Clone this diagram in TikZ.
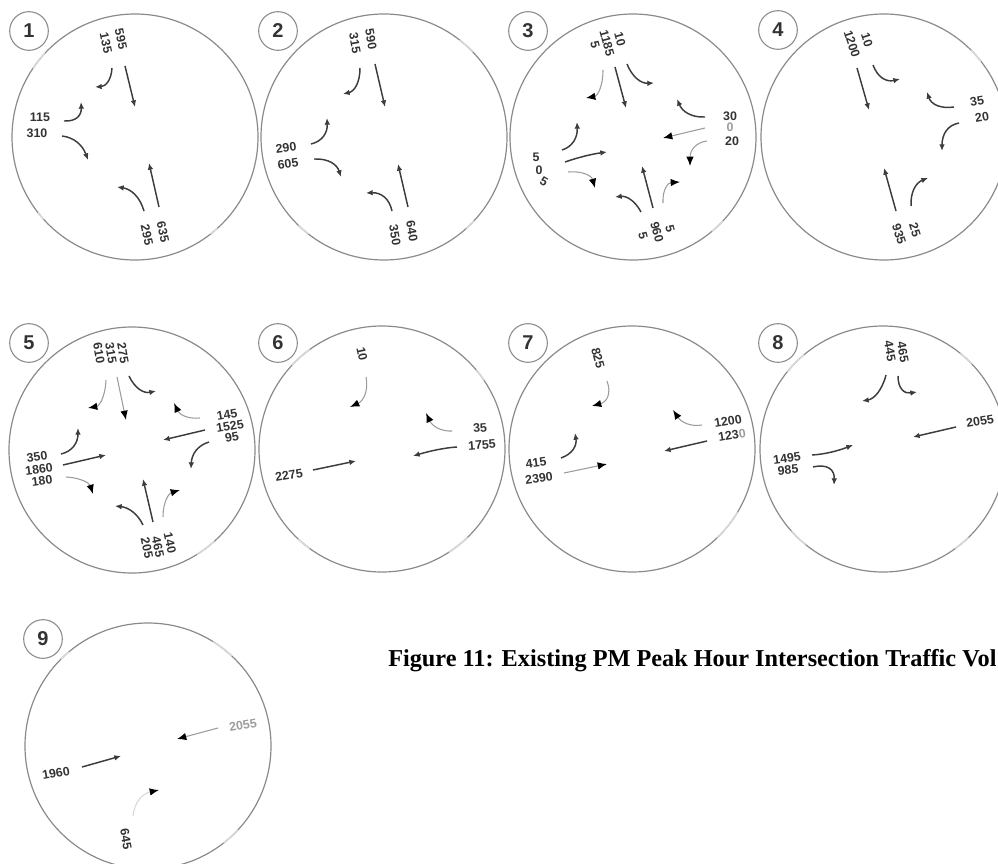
\documentclass[tikz,border=0pt]{standalone}
\usepackage{fontspec}
\setmainfont{Liberation Serif}
\setsansfont{Liberation Sans}
\usetikzlibrary{arrows.meta,calc}
\definecolor{ringgray}{HTML}{8A8A8A}
\definecolor{gapgray}{HTML}{D8D8D8}
\definecolor{flowdark}{HTML}{3C3C3C}
\definecolor{fadegray}{HTML}{9C9C9C}
\definecolor{numdark}{HTML}{333333}
\newcommand{\bendarrow}[4]{\draw[#1] (#2) .. controls ($(#2)!0.67!(#3)$) and ($(#4)!0.67!(#3)$) .. (#4);}
\begin{document}
\begin{tikzpicture}[
  x=0.75pt,y=-0.75pt,
  ring/.style={draw=ringgray,circle,line width=0.9pt,minimum size=184.5pt,inner sep=0pt,outer sep=0pt},
  badge/.style={draw=ringgray,circle,line width=0.8pt,minimum size=29pt,inner sep=0pt,font=\sffamily\bfseries\fontsize{15}{15}\selectfont,text=numdark},
  gapped/.style={draw=gapgray,line width=1.3pt},
  num/.style={inner sep=0pt,font=\sffamily\bfseries\fontsize{9.3}{10}\selectfont,text=numdark},
  flow/.style={draw=flowdark,line width=1.1pt,-{Latex[length=5pt,width=4.2pt]}},
  fade/.style={draw=fadegray,line width=0.8pt,-{Latex[length=7pt,width=5.6pt,black]}},
  faint/.style={fade,draw=gapgray},
]
  \useasboundingbox (0,0) rectangle (998,863);

  \foreach \name/\cx/\cy/\bx/\by in {1/135/137/29/31,2/384/137/278/31,3/633/137/528/31,4/884/137/778/30,
    5/132/450/29/343,6/382/449/278/343,7/632/449/528/343,8/883/449/778/343,9/148/746/43/639} {
    \node[ring] (ring\name) at (\cx,\cy) {};
    \node[badge] (tag\name) at (\bx,\by) {\name};
  }
  \foreach \name/\ang/\len in {1/137/9,1/218/4,1/-52/4,2/44/8,2/226/6,2/-48/5,3/-50/7,4/38/7,5/-58/10,
    6/126/11,6/34/6,6/227/7,6/-57/11,7/-46/15,8/130/11,8/44/7,8/222/9,8/-54/8,9/130/5,9/47/11,9/-52/9} {
    \draw[gapped] (ring\name.\ang) arc[start angle=\ang,delta angle=\len,radius=92.25pt];
  }

  % intersection 1
  \bendarrow{flow}{112,68}{111,86}{95,87}
  \draw[flow] (125,66) -- (135,107);
  \bendarrow{flow}{64,121}{82,122}{81,102}
  \bendarrow{flow}{62,136}{80,138}{88,160}
  \bendarrow{flow}{144,211}{138,190}{117,187}
  \draw[flow] (159,207) -- (149,163);
  \node[num,rotate=-78] (a1) at (106,43) {135};
  \node[num,rotate=-78] (a2) at (121,39) {595};
  \node[num] (a3) at (40,117) {115};
  \node[num] (a4) at (37,133) {310};
  \node[num,rotate=-78] (a5) at (147,235) {295};
  \node[num,rotate=-78] (a6) at (163,232) {635};

  % intersection 2
  \bendarrow{flow}{360,68}{360,90}{343,94}
  \draw[flow] (375,64) -- (385,107);
  \bendarrow{flow}{311,144}{328,140}{327,118}
  \bendarrow{flow}{314,159}{335,158}{341,177}
  \bendarrow{flow}{392,211}{388,192}{366,193}
  \draw[flow] (408,207) -- (398,164);
  \node[num,rotate=-80] (b1) at (355,43) {315};
  \node[num,rotate=-80] (b2) at (371,39) {590};
  \node[num,rotate=8] (b3) at (286,148) {290};
  \node[num,rotate=8] (b4) at (288,164) {605};
  \node[num,rotate=-80] (b5) at (395,235) {350};
  \node[num,rotate=-80] (b6) at (412,231) {640};

  % intersection 3
  \bendarrow{fade}{603,70}{603,95}{586,98}
  \draw[flow] (615,67) -- (626,108);
  \bendarrow{flow}{627,64}{635,84}{654,83}
  \bendarrow{flow}{705,117}{685,118}{677,99}
  \draw[fade] (705,128) -- (663,138);
  \bendarrow{fade}{707,141}{690,143}{690,166}
  \bendarrow{flow}{562,150}{578,145}{577,122}
  \bendarrow{flow}{565,162}{585,155}{607,152}
  \bendarrow{fade}{568,172}{590,170}{595,188}
  \bendarrow{flow}{641,212}{632,195}{615,197}
  \draw[flow] (653,208) -- (642,166);
  \bendarrow{fade}{663,203}{662,183}{680,182}
  \node[num,rotate=-75] (c1) at (595,45) {5};
  \node[num,rotate=-75] (c2) at (607,43) {1185};
  \node[num,rotate=-75] (c3) at (620,39) {10};
  \node[num] (c4) at (730,116) {30};
  \node[num,text=fadegray] (c5) at (730,127) {0};
  \node[num] (c6) at (732,141) {20};
  \node[num] (c7) at (536,157) {5};
  \node[num] (c8) at (539,170) {0};
  \node[num,rotate=-30] (c9) at (544,182) {5};
  \node[num,rotate=-75] (c10) at (643,236) {5};
  \node[num,rotate=-75] (c11) at (657,232) {960};
  \node[num,rotate=-75] (c12) at (670,229) {5};

  % intersection 4
  \draw[flow] (857,68) -- (869,110);
  \bendarrow{flow}{873,65}{880,84}{900,79}
  \bendarrow{flow}{954,107}{933,110}{927,92}
  \bendarrow{flow}{959,123}{942,126}{942,151}
  \bendarrow{flow}{911,206}{910,185}{928,178}
  \draw[flow] (896,211) -- (884,168);
  \node[num,rotate=-72] (d1) at (852,44) {1200};
  \node[num,rotate=-72] (d2) at (867,40) {10};
  \node[num,rotate=10] (d3) at (977,101) {35};
  \node[num,rotate=10] (d4) at (982,117) {20};
  \node[num,rotate=-72] (d5) at (899,234) {935};
  \node[num,rotate=-72] (d6) at (915,230) {25};

  % intersection 5
  \bendarrow{fade}{106,380}{105,405}{88,408}
  \draw[fade] (117,377) -- (126,420);
  \bendarrow{flow}{129,376}{138,395}{156,391}
  \bendarrow{fade}{200,418}{182,420}{174,403}
  \draw[flow] (205,430) -- (163,440);
  \bendarrow{flow}{209,442}{192,447}{191,469}
  \bendarrow{flow}{61,454}{78,450}{78,428}
  \draw[flow] (63,465) -- (106,455);
  \bendarrow{fade}{66,477}{88,478}{93,494}
  \bendarrow{flow}{143,525}{135,508}{115,506}
  \draw[flow] (153,522) -- (143,479);
  \bendarrow{fade}{163,517}{163,495}{180,490}
  \node[num,rotate=-80] (e1) at (99,353) {610};
  \node[num,rotate=-80] (e2) at (111,353) {315};
  \node[num,rotate=-80] (e3) at (123,353) {275};
  \node[num,rotate=10] (e4) at (227,415) {145};
  \node[num,rotate=10] (e5) at (230,426) {1525};
  \node[num,rotate=10] (e6) at (232,437) {95};
  \node[num,rotate=8] (e7) at (37,457) {350};
  \node[num,rotate=8] (e8) at (39,469) {1860};
  \node[num,rotate=8] (e9) at (42,481) {180};
  \node[num,rotate=-78] (e10) at (147,548) {205};
  \node[num,rotate=-78] (e11) at (158,547) {465};
  \node[num,rotate=-78] (e12) at (170,543) {140};

  % intersection 6
  \bendarrow{fade}{366,377}{370,398}{350,407}
  \bendarrow{fade}{452,431}{435,432}{426,413}
  \bendarrow{flow}{457,447}{440,448}{413,456}
  \draw[flow] (313,470) -- (356,461);
  \node[num,rotate=-78] (f1) at (362,354) {10};
  \node[num,rotate=5] (f2) at (480,428) {35};
  \node[num,rotate=5] (f3) at (482,445) {1755};
  \node[num,rotate=10] (f4) at (289,475) {2275};

  % intersection 7
  \bendarrow{fade}{607,381}{614,400}{592,406}
  \bendarrow{fade}{702,425}{685,428}{673,410}
  \draw[flow] (707,441) -- (664,451);
  \bendarrow{flow}{561,458}{578,452}{575,433}
  \draw[fade] (564,473) -- (607,464);
  \node[num,rotate=-75] (g1) at (598,358) {825};
  \node[num,rotate=10] (g2) at (728,421) {1200};
  \node[num,rotate=10] (g3) at (732,435) {123\textcolor{fadegray}{0}};
  \node[num,rotate=8] (g4) at (536,463) {415};
  \node[num,rotate=8] (g5) at (539,478) {2390};

  % intersection 8
  \bendarrow{flow}{886,375}{880,398}{862,401}
  \bendarrow{flow}{898,376}{898,395}{917,392}
  \draw[flow] (956,427) -- (913,437);
  \bendarrow{flow}{812,455}{830,454}{853,445}
  \bendarrow{flow}{813,467}{835,462}{834,485}
  \node[num,rotate=-80] (h1) at (890,351) {445};
  \node[num,rotate=-80] (h2) at (903,352) {465};
  \node[num,rotate=10] (h3) at (980,421) {2055};
  \node[num,rotate=8] (h4) at (787,458) {1495};
  \node[num,rotate=5] (h5) at (788,470) {985};

  % intersection 9
  \draw[flow] (82,767) -- (121,756);
  \draw[fade] (218,728) -- (177,739);
  \bendarrow{faint}{133,816}{135,795}{159,790}
  \node[num,rotate=10] (k1) at (56,773) {1960};
  \node[num,rotate=10,text=fadegray] (k2) at (243,725) {2055};
  \node[num,rotate=-80] (k3) at (126,839) {645};

  \node[anchor=west,inner sep=0pt,font=\bfseries\fontsize{18.2}{20}\selectfont,text=black] (title) at (388,661) {Figure 11: Existing PM Peak Hour Intersection Traffic Vol};
\end{tikzpicture}
\end{document}
